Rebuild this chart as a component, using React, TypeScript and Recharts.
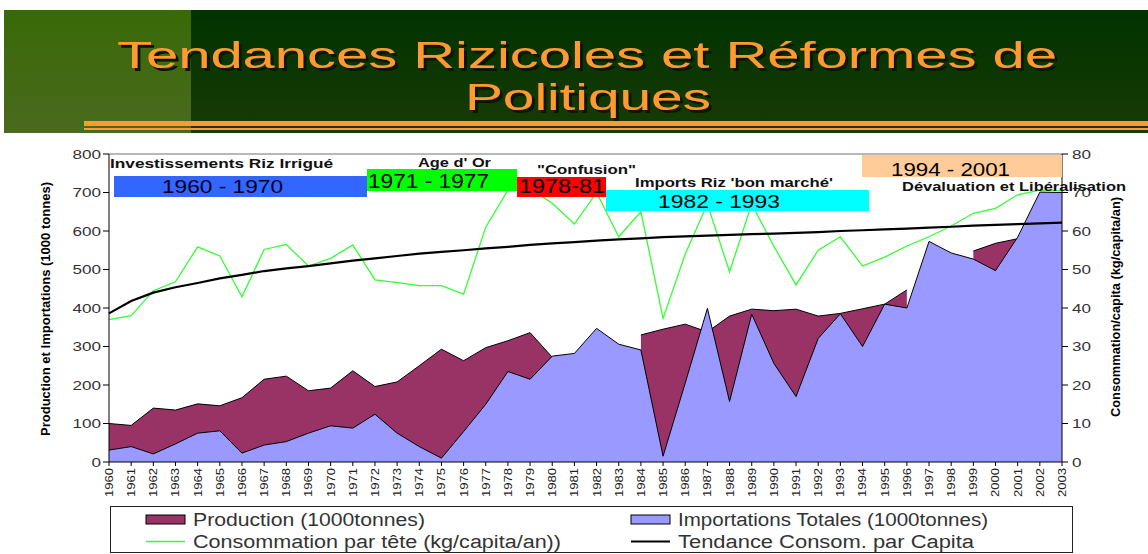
import React from 'react';
import { ComposedChart, Area, Line, XAxis, YAxis, ReferenceLine } from 'recharts';

const YEARS = [
  '1960', '1961', '1962', '1963', '1964', '1965', '1966', '1967', '1968', '1969',
  '1970', '1971', '1972', '1973', '1974', '1975', '1976', '1977', '1978', '1979',
  '1980', '1981', '1982', '1983', '1984', '1985', '1986', '1987', '1988', '1989',
  '1990', '1991', '1992', '1993', '1994', '1995', '1996', '1997', '1998', '1999',
  '2000', '2001', '2002', '2003',
];

// 1000 tonnes (null = pas de donnée)
const PRODUCTION = [
  100, 95, 140, 135, 151, 146, 167, 215, 223, 185,
  192, 237, 196, 208, 250, 293, 263, 297, 315, 336,
  272, null, null, null, 330, 345, 358, 338, 379, 397,
  393, 397, 379, 386, 398, 410, 447, null, null, 548,
  568, 580, null, null,
];

const IMPORTS = [
  31, 40, 21, 47, 75, 81, 23, 44, 53, 75,
  94, 88, 124, 75, 40, 10, 79, 150, 235, 215,
  275, 282, 347, 306, 291, 15, 205, 399, 157, 384,
  256, 170, 321, 385, 300, 410, 400, 573, 543, 527,
  497, 584, 701, 700,
];

// kg/capita/an
const CONSUMPTION = [
  37, 38, 44.5, 46.8, 55.9, 53.5, 42.9, 55.2, 56.5, 50.9,
  52.9, 56.4, 47.3, 46.6, 45.8, 45.8, 43.6, 61, 70.6, 71,
  67.2, 61.8, 70, 58.5, 65, 37.3, 54, 67, 49.4, 67,
  56, 46, 55, 58.5, 50.9, 53.2, 56.1, 58.5, 61.3, 64.6,
  65.9, 69.4, 70.6, 70.5,
];

const TREND = [
  38.6, 41.8, 44.0, 45.4, 46.5, 47.7, 48.6, 49.6, 50.3, 50.9,
  51.6, 52.3, 52.9, 53.5, 54.1, 54.6, 55.0, 55.5, 55.9, 56.4,
  56.8, 57.1, 57.5, 57.8, 58.1, 58.4, 58.6, 58.8, 59.0, 59.2,
  59.3, 59.5, 59.7, 60.0, 60.2, 60.4, 60.6, 60.9, 61.1, 61.4,
  61.6, 61.8, 62.0, 62.2,
];

const LEFT_TICKS = [0, 100, 200, 300, 400, 500, 600, 700, 800];
const RIGHT_TICKS = [0, 10, 20, 30, 40, 50, 60, 70, 80];

const COLORS = {
  production: '#993366',
  imports: '#9999ff',
  consumption: '#33ff33',
  trend: '#000000',
};

const FONT = '"Liberation Sans", Arial, sans-serif';

const data = YEARS.map((year, i) => ({
  year,
  production: PRODUCTION[i],
  imports: IMPORTS[i],
  consumption: CONSUMPTION[i],
  trend: TREND[i],
}));

function XTick(props: any) {
  const { x, y, payload } = props;
  return (
    <text
      x={x}
      y={y}
      transform={`rotate(-90, ${x}, ${y})`}
      textAnchor="end"
      dy="0.36em"
      fontSize={11}
      fontFamily={FONT}
      fill="#222"
      textLength={29}
      lengthAdjust="spacingAndGlyphs"
    >
      {payload.value}
    </text>
  );
}

function YTick(props: any) {
  const { x, y, payload, textAnchor } = props;
  const label = String(payload.value);
  return (
    <text
      x={x}
      y={y}
      dy="0.36em"
      textAnchor={textAnchor}
      fontSize={13}
      fontFamily={FONT}
      fill="#333"
      textLength={label.length * 9.5}
      lengthAdjust="spacingAndGlyphs"
    >
      {label}
    </text>
  );
}

// period boxes drawn above the chart
const PERIODS = [
  { x: 114, y: 176, w: 253, h: 21, fill: '#3366ff', label: '1960 - 1970', tx: 162, ty: 193, tl: 121, fs: 19, color: '#000022' },
  { x: 367, y: 169, w: 150, h: 22, fill: '#00ff00', label: '1971 - 1977', tx: 368, ty: 188, tl: 121, fs: 20, color: '#000' },
  { x: 517, y: 177, w: 89, h: 20, fill: '#ff0000', label: '1978-81', tx: 519, ty: 193, tl: 86, fs: 20, color: '#000' },
  { x: 606, y: 190, w: 263, h: 21, fill: '#00ffff', label: '1982 - 1993', tx: 658, ty: 208, tl: 122, fs: 19, color: '#000' },
  { x: 862, y: 155, w: 200, h: 22, fill: '#ffcc99', label: '1994 - 2001', tx: 891, ty: 176, tl: 119, fs: 18, color: '#000' },
];

const CAPTIONS = [
  { label: 'Investissements Riz Irrigué', x: 110, y: 168, tl: 223 },
  { label: "Age d' Or", x: 418, y: 167, tl: 73 },
  { label: '"Confusion"', x: 537, y: 174, tl: 99 },
  { label: "Imports Riz 'bon marché'", x: 635, y: 187, tl: 198 },
  { label: 'Dévaluation et Libéralisation', x: 902, y: 190.5, tl: 224 },
];

const LEGEND = [
  { label: 'Production (1000tonnes)', kind: 'box', color: COLORS.production, x: 146, y: 520, tl: 232 },
  { label: 'Importations Totales (1000tonnes)', kind: 'box', color: COLORS.imports, x: 631, y: 520, tl: 310 },
  { label: 'Consommation par tête (kg/capita/an))', kind: 'line', color: COLORS.consumption, x: 146, y: 541.5, tl: 368 },
  { label: 'Tendance Consom. par Capita', kind: 'line', color: COLORS.trend, x: 631, y: 541.5, tl: 296 },
];

export default function App() {
  return (
    <div
      style={{
        position: 'relative',
        width: 1148,
        height: 554,
        overflow: 'hidden',
        background: '#fff',
        fontFamily: FONT,
      }}
    >
      <style>{`body { margin: 0; }`}</style>

      {/* banner */}
      <div
        style={{
          position: 'absolute',
          left: 4,
          top: 10,
          width: 1144,
          height: 123,
          background: 'linear-gradient(#003300, #183a04)',
        }}
      />
      <div
        style={{
          position: 'absolute',
          left: 4,
          top: 10,
          width: 187,
          height: 123,
          background: 'linear-gradient(#396907, #4a6a1e)',
        }}
      />
      <div style={{ position: 'absolute', left: 84, top: 121, width: 1064, height: 5, background: '#ff9933' }} />
      <div style={{ position: 'absolute', left: 84, top: 128, width: 1064, height: 2, background: '#ff9933' }} />

      <div style={{ position: 'absolute', left: 0, top: 0 }}>
        <ComposedChart
          width={1148}
          height={554}
          data={data}
          margin={{ top: 154, right: 0, bottom: 0, left: 0 }}
        >
          <XAxis
            dataKey="year"
            scale="point"
            interval={0}
            height={92}
            tickSize={4}
            tickMargin={2}
            axisLine={{ stroke: '#000' }}
            tickLine={{ stroke: '#000' }}
            tick={<XTick />}
          />
          <YAxis
            yAxisId="left"
            domain={[0, 800]}
            ticks={LEFT_TICKS}
            width={109}
            tickSize={6}
            tickMargin={2}
            axisLine={{ stroke: '#000' }}
            tickLine={{ stroke: '#000' }}
            tick={<YTick />}
          />
          <YAxis
            yAxisId="right"
            orientation="right"
            domain={[0, 80]}
            ticks={RIGHT_TICKS}
            width={86}
            tickSize={6}
            tickMargin={4}
            axisLine={{ stroke: '#000' }}
            tickLine={{ stroke: '#000' }}
            tick={<YTick />}
          />
          <ReferenceLine yAxisId="left" y={800} stroke="#a0a0a0" strokeWidth={1.5} />
          <Area
            yAxisId="left"
            type="linear"
            dataKey="production"
            fill={COLORS.production}
            fillOpacity={1}
            stroke="#000"
            strokeWidth={1}
            dot={false}
            activeDot={false}
            isAnimationActive={false}
          />
          <Area
            yAxisId="left"
            type="linear"
            dataKey="imports"
            fill={COLORS.imports}
            fillOpacity={1}
            stroke="#000"
            strokeWidth={1}
            dot={false}
            activeDot={false}
            isAnimationActive={false}
          />
          <Line
            yAxisId="right"
            type="linear"
            dataKey="consumption"
            stroke={COLORS.consumption}
            strokeWidth={1.3}
            dot={false}
            activeDot={false}
            isAnimationActive={false}
          />
          <Line
            yAxisId="right"
            type="linear"
            dataKey="trend"
            stroke={COLORS.trend}
            strokeWidth={2.2}
            dot={false}
            activeDot={false}
            isAnimationActive={false}
          />
        </ComposedChart>
      </div>

      <svg
        width={1148}
        height={554}
        style={{ position: 'absolute', left: 0, top: 0, pointerEvents: 'none' }}
        fontFamily={FONT}
      >
        <defs>
          <filter id="titleShadow" x="-5%" y="-20%" width="110%" height="150%">
            <feDropShadow dx={3} dy={3} stdDeviation={0.4} floodColor="#0d1400" floodOpacity={1} />
          </filter>
        </defs>

        {/* title */}
        <g fontSize={37} fill="#ff9933" filter="url(#titleShadow)">
          <text x={117} y={68} textLength={940} lengthAdjust="spacingAndGlyphs">
            Tendances Rizicoles et Réformes de
          </text>
          <text x={465} y={110} textLength={246} lengthAdjust="spacingAndGlyphs">
            Politiques
          </text>
        </g>

        {/* periods */}
        {PERIODS.map((p) => (
          <g key={p.label}>
            <rect x={p.x} y={p.y} width={p.w} height={p.h} fill={p.fill} />
            <text
              x={p.tx}
              y={p.ty}
              fontSize={p.fs}
              fill={p.color}
              textLength={p.tl}
              lengthAdjust="spacingAndGlyphs"
            >
              {p.label}
            </text>
          </g>
        ))}
        {CAPTIONS.map((c) => (
          <text
            key={c.label}
            x={c.x}
            y={c.y}
            fontSize={13}
            fontWeight="bold"
            fill="#111"
            textLength={c.tl}
            lengthAdjust="spacingAndGlyphs"
          >
            {c.label}
          </text>
        ))}

        {/* axis titles */}
        <text
          x={50}
          y={309}
          transform="rotate(-90, 50, 309)"
          textAnchor="middle"
          fontSize={13}
          fontWeight="bold"
          fill="#000"
          textLength={254}
          lengthAdjust="spacingAndGlyphs"
        >
          Production et Importations (1000 tonnes)
        </text>
        <text
          x={1120}
          y={307}
          transform="rotate(-90, 1120, 307)"
          textAnchor="middle"
          fontSize={13}
          fontWeight="bold"
          fill="#000"
          textLength={220}
          lengthAdjust="spacingAndGlyphs"
        >
          Consommation/capita (kg/capita/an)
        </text>

        {/* legend */}
        <rect x={110.5} y={506.5} width={962} height={46} fill="#fff" stroke="#222" strokeWidth={1} />
        {LEGEND.map((l) => (
          <g key={l.label}>
            {l.kind === 'box' ? (
              <rect x={l.x} y={l.y - 5} width={39} height={9} fill={l.color} stroke="#000" strokeWidth={1} />
            ) : (
              <line x1={l.x} x2={l.x + 39} y1={l.y} y2={l.y} stroke={l.color} strokeWidth={l.color === '#000000' ? 2 : 1.5} />
            )}
            <text
              x={l.x + 47}
              y={l.y}
              dy="0.36em"
              fontSize={18}
              fill="#333"
              textLength={l.tl}
              lengthAdjust="spacingAndGlyphs"
            >
              {l.label}
            </text>
          </g>
        ))}
      </svg>
    </div>
  );
}
